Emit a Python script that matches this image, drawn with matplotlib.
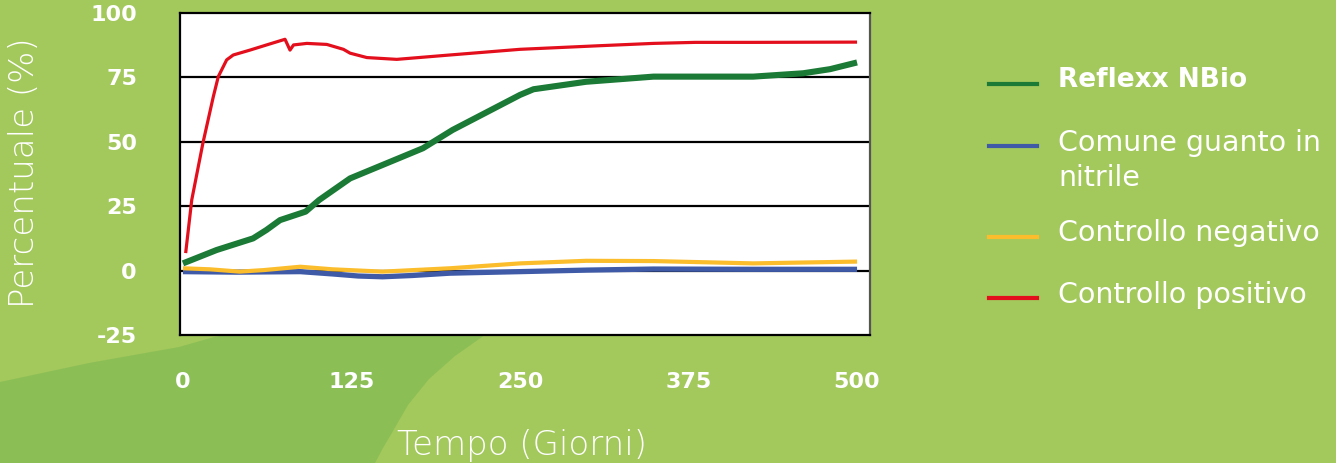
import matplotlib
matplotlib.use("Agg")
import matplotlib.pyplot as plt
from matplotlib.patches import PathPatch
from matplotlib.path import Path
from matplotlib.lines import Line2D

plt.rcParams['font.family'] = ['DejaVu Sans']

# ---- data ----
series_names = ["Reflexx NBio", "Comune guanto in\nnitrile", "Controllo negativo", "Controllo positivo"]

green_x = [0, 25, 52, 62, 72, 91, 101, 124, 148, 178, 200, 250, 260, 299, 349, 423, 460, 480, 500]
green_y = [2.8, 8.0, 12.5, 15.8, 19.6, 22.9, 27.4, 35.8, 41.0, 47.5, 54.6, 68.2, 70.4, 73.3, 75.3, 75.3, 76.6, 78.2, 80.8]

blue_x = [0, 40, 87, 111, 130, 148, 170, 198, 250, 300, 349, 423, 500]
blue_y = [-0.4, -0.6, -0.4, -1.3, -2.1, -2.4, -1.9, -1.0, -0.4, 0.2, 0.6, 0.5, 0.5]

yellow_x = [0, 20, 42, 60, 87, 111, 148, 198, 250, 299, 349, 423, 500]
yellow_y = [0.9, 0.5, -0.4, 0.2, 1.5, 0.5, -0.4, 0.9, 2.8, 3.8, 3.7, 2.8, 3.5]

red_x = [2, 6.5, 14.8, 22.5, 26.2, 32.4, 37.3, 49.7, 62, 75.7, 79.4, 82, 91.9, 106.7, 119, 124,
         136.4, 158.6, 198, 250, 309, 349, 380, 423, 500]
red_y = [6.8, 27.4, 49.5, 67.5, 75.3, 81.8, 83.7, 85.6, 87.6, 89.8, 85.6, 87.6, 88.2, 87.8, 85.9,
         84.4, 82.7, 82.0, 83.7, 85.9, 87.3, 88.2, 88.6, 88.6, 88.7]

x_ticks = [0, 125, 250, 375, 500]
y_ticks = [-25, 0, 25, 50, 75, 100]

colors = ["#1b7a35", "#3f5ba8", "#fbbd2b", "#e30f1c"]
widths = [4.4, 3.8, 3.0, 2.3]

W, H = 1336, 463
fig = plt.figure(figsize=(W / 100, H / 100), dpi=100)
fig.patch.set_facecolor("#a3c85c")

# background decorative shape
bg = fig.add_axes([0, 0, 1, 1], zorder=-5)
bg.set_xlim(0, W)
bg.set_ylim(H, 0)
bg.axis("off")
verts = [(0, 382), (89, 363), (179, 347), (214, 337), (300, 322), (400, 318), (500, 320),
         (482, 337), (455, 356), (429, 379), (408, 405), (393, 431), (383, 448), (375, 463),
         (0, 463), (0, 382)]
codes = [Path.MOVETO] + [Path.LINETO] * (len(verts) - 2) + [Path.CLOSEPOLY]
bg.add_patch(PathPatch(Path(verts, codes), facecolor="#8bbf56", edgecolor="none"))

ax = fig.add_axes([180 / W, (H - 335) / H, 690 / W, 322 / H])
ax.set_facecolor("white")
ax.set_xlim(-2.2, 509.6)
ax.set_ylim(-25, 100)

for yv in [0, 25, 50, 75]:
    ax.axhline(yv, color="black", lw=1.6, zorder=1)

data = [(green_x, green_y), (blue_x, blue_y), (yellow_x, yellow_y), (red_x, red_y)]
order = [1, 2, 0, 3]
for i in order:
    xs, ys = data[i]
    ax.plot(xs, ys, color=colors[i], lw=widths[i], solid_capstyle="butt", zorder=3 + i)

for s in ax.spines.values():
    s.set_color("black")
    s.set_linewidth(1.6)
ax.spines["right"].set_color("#555555")

ax.set_xticks(x_ticks)
ax.set_xticklabels([str(v) for v in x_ticks])
ax.set_yticks(y_ticks)
ax.set_yticklabels([str(v) for v in y_ticks])
ax.tick_params(length=0, labelcolor="white", labelsize=16)
ax.tick_params(axis="x", pad=27)
ax.tick_params(axis="y", pad=31)
for lab in ax.get_xticklabels() + ax.get_yticklabels():
    lab.set_fontweight("bold")

fig.text(522 / W, 1 - 446 / H, "Tempo (Giorni)", color="white", fontsize=24.5,
         fontweight="light", ha="center", va="center")
fig.text(25 / W, 1 - 173 / H, "Percentuale (%)", color="white", fontsize=24.5,
         fontweight="light", ha="center", va="center", rotation=90)

# legend
line_ys = [84, 146, 237, 298]
text_rows = [[(80, "Reflexx NBio")],
             [(143, series_names[1].split("\n")[0]), (178, series_names[1].split("\n")[1])],
             [(233, series_names[2])],
             [(295, series_names[3])]]
for i in range(4):
    ly = 1 - line_ys[i] / H
    fig.add_artist(Line2D([989 / W, 1037 / W], [ly, ly], color=colors[i], lw=3.0,
                          transform=fig.transFigure))
    for ty, txt in text_rows[i]:
        fig.text(1058 / W, 1 - ty / H, txt, color="white",
                 fontsize=19 if i == 0 else 20.5,
                 fontweight="bold" if i == 0 else "normal", ha="left", va="center")

fig.savefig("out.png", dpi=100, facecolor=fig.get_facecolor())
